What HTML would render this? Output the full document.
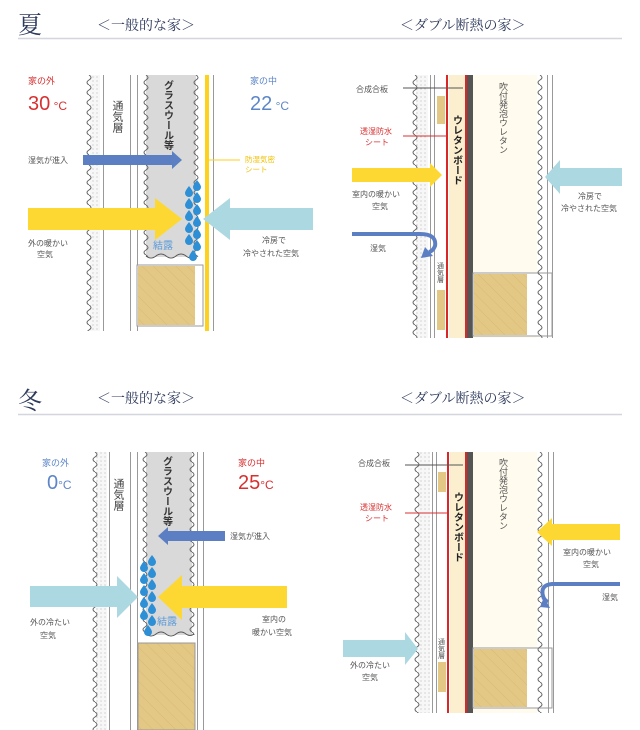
<!DOCTYPE html>
<html><head><meta charset="utf-8"><style>
html,body{margin:0;padding:0;background:#fff;}
svg{display:block;}
text{font-family:"Liberation Sans","Noto Sans CJK JP",sans-serif;}
.s{font-size:8px;fill:#555;}
.ttl{font-family:"Liberation Serif","Noto Serif CJK SC",serif;fill:#2e3a5c;}
.v{writing-mode:tb;}
</style></head><body>
<svg width="640" height="730" viewBox="0 0 640 730" xmlns="http://www.w3.org/2000/svg">
<defs>
<pattern id="wave" width="8" height="10" patternUnits="userSpaceOnUse">
<path d="M4,0 Q8,2.5 4,5 Q0,7.5 4,10" fill="none" stroke="#666" stroke-width="1"/>
</pattern>
<pattern id="dots" width="4" height="4" patternUnits="userSpaceOnUse">
<rect width="4" height="4" fill="#f7f7f7"/><circle cx="1" cy="1" r="0.6" fill="#bbb"/>
</pattern>
<pattern id="hatch" width="8" height="8" patternUnits="userSpaceOnUse" patternTransform="rotate(-45)">
<rect width="8" height="8" fill="#e3c785"/><line x1="0" y1="0" x2="0" y2="8" stroke="#d9ba72" stroke-width="1"/>
</pattern>
<path id="drop" d="M0,-5 Q4,0 4,2 A4,4 0 1 1 -4,2 Q-4,0 0,-5Z" fill="#2d8fd6"/>
<g id="drops">
<use href="#drop" x="0" y="0"/><use href="#drop" x="0" y="12"/><use href="#drop" x="0" y="24"/><use href="#drop" x="0" y="36"/><use href="#drop" x="0" y="48"/><use href="#drop" x="0" y="60"/>
<use href="#drop" x="-8" y="6"/><use href="#drop" x="-8" y="18"/><use href="#drop" x="-8" y="30"/><use href="#drop" x="-8" y="42"/><use href="#drop" x="-8" y="54"/><use href="#drop" x="-4" y="70"/>
</g>
</defs>

<!-- ===== TITLES ===== -->
<text x="18" y="33" class="ttl" font-size="24">夏</text>
<text x="97" y="30" class="ttl" font-size="14">＜一般的な家＞</text>
<text x="400" y="30" class="ttl" font-size="14">＜ダブル断熱の家＞</text>
<line x1="18" y1="38.5" x2="622" y2="38.5" stroke="#d4d6de" stroke-width="1.5"/>

<text x="18" y="409" class="ttl" font-size="24">冬</text>
<text x="97" y="403" class="ttl" font-size="14">＜一般的な家＞</text>
<text x="400" y="403" class="ttl" font-size="14">＜ダブル断熱の家＞</text>
<line x1="18" y1="414.5" x2="622" y2="414.5" stroke="#d4d6de" stroke-width="1.5"/>

<!-- ===== SUMMER GENERAL ===== -->
<g>
<rect x="90" y="75" width="10" height="256" fill="url(#dots)"/>
<g transform="translate(85,75)"><rect width="8" height="256" fill="url(#wave)"/></g>
<line x1="103.5" y1="75" x2="103.5" y2="331" stroke="#999"/>
<text x="117" y="100" class="v" style="font-size:11px" fill="#444">通気層</text>
<line x1="130.5" y1="75" x2="130.5" y2="331" stroke="#999"/>
<line x1="137.5" y1="75" x2="137.5" y2="331" stroke="#999"/>
<rect x="146" y="75" width="50" height="182" fill="#d9d9d9"/>
<g transform="translate(142,75)"><rect width="8" height="182" fill="url(#wave)"/></g>
<g transform="translate(192,75)"><rect width="8" height="182" fill="url(#wave)"/></g>
<path d="M146,256 q5,4 10,0 q5,-4 10,0 q5,4 10,0 q5,-4 10,0 q5,4 10,0" fill="none" stroke="#555"/>
<text x="167" y="80" style="font-size:10px" class="v" fill="#333" font-weight="bold">グラスウール等</text>
<rect x="137" y="265" width="66" height="61" fill="#fff" stroke="#999"/>
<rect x="138" y="266" width="57" height="59" fill="url(#hatch)"/>
<rect x="205" y="75" width="4" height="256" fill="#fcd21f"/>
<line x1="213.5" y1="75" x2="213.5" y2="331" stroke="#999"/>
<use href="#drops" x="197" y="185"/>
<text x="153" y="249" font-size="10" fill="#5a9ad8">結露</text>

<text x="28" y="84" font-size="9" fill="#d83030">家の外</text>
<text x="28" y="110" font-size="20" fill="#d83030">30<tspan font-size="12"> °C</tspan></text>
<text x="250" y="84" font-size="9" fill="#5c86c8">家の中</text>
<text x="250" y="110" font-size="20" fill="#5c86c8">22<tspan font-size="12"> °C</tspan></text>

<polygon points="83,155 172,155 172,151 182,160 172,169 172,165 83,165" fill="#5c7fc4"/>
<text x="28" y="163" class="s">湿気が進入</text>
<polygon points="28,208 155,208 155,198 182,219 155,240 155,230 28,230" fill="#fdd833"/>
<polygon points="313,208 230,208 230,198 203,219 230,240 230,230 313,230" fill="#acd8e2"/>
<line x1="209" y1="160" x2="240" y2="160" stroke="#fcd21f"/>
<text x="245" y="162" font-size="7.5" fill="#f0c000">防湿気密</text>
<text x="245" y="172" font-size="7.5" fill="#f0c000">シート</text>
<text x="28" y="246" class="s">外の暖かい</text>
<text x="37" y="257" class="s">空気</text>
<text x="262" y="243" class="s">冷房で</text>
<text x="243" y="256" class="s">冷やされた空気</text>
</g>

<!-- ===== SUMMER DOUBLE ===== -->
<g>
<rect x="416" y="75" width="12" height="263" fill="url(#dots)"/>
<g transform="translate(411,75)"><rect width="8" height="263" fill="url(#wave)"/></g>
<line x1="430.5" y1="75" x2="430.5" y2="338" stroke="#999"/>
<line x1="434.5" y1="75" x2="434.5" y2="338" stroke="#999"/>
<rect x="437" y="96" width="8" height="28" fill="#e3c785"/>
<rect x="437" y="290" width="8" height="40" fill="#e3c785"/>
<rect x="449" y="75" width="16" height="263" fill="#fbefcf"/>
<rect x="446" y="75" width="2" height="263" fill="#d92626"/>
<rect x="465" y="75" width="2" height="263" fill="#d92626"/>
<rect x="467" y="75" width="6" height="263" fill="#555"/>
<rect x="473" y="75" width="64" height="263" fill="#fffbee"/>
<rect x="473" y="273" width="79" height="63" fill="#fff" stroke="#999"/>
<rect x="474" y="274" width="53" height="61" fill="url(#hatch)"/>
<g transform="translate(536,75)"><rect width="8" height="263" fill="url(#wave)"/></g>
<line x1="547.5" y1="75" x2="547.5" y2="338" stroke="#999"/>
<line x1="552.5" y1="75" x2="552.5" y2="338" stroke="#999"/>
<text x="456" y="115" style="font-size:10px" font-weight="bold" class="v" fill="#222">ウレタンボード</text>
<text x="503" y="82" style="font-size:9px" class="v" fill="#555">吹付発泡ウレタン</text>
<text x="440" y="262" style="font-size:7px" class="v" fill="#555">通気層</text>
<text x="356" y="92" class="s">合成合板</text>
<line x1="403" y1="88" x2="463" y2="88" stroke="#555"/>
<text x="360" y="134" font-size="8" fill="#d83030">透湿防水</text>
<text x="365" y="145" font-size="8" fill="#d83030">シート</text>
<line x1="403" y1="136" x2="447" y2="136" stroke="#d83030"/>
<polygon points="352,168 430,168 430,163 442,175 430,187 430,182 352,182" fill="#fdd833"/>
<text x="352" y="197" class="s">室内の暖かい</text>
<text x="372" y="209" class="s">空気</text>
<path d="M352,234 L420,234 Q437,234 435,246 Q433,251 429,252" fill="none" stroke="#5c7fc4" stroke-width="4"/>
<polygon points="425,247 433,256 421,258" fill="#5c7fc4"/>
<text x="370" y="251" class="s">湿気</text>
<polygon points="622,168 560,168 560,160 545,177 560,194 560,186 622,186" fill="#acd8e2"/>
<text x="578" y="199" class="s">冷房で</text>
<text x="561" y="211" class="s">冷やされた空気</text>
</g>

<!-- ===== WINTER GENERAL ===== -->
<g>
<rect x="96" y="452" width="11" height="278" fill="url(#dots)"/>
<g transform="translate(91,452)"><rect width="8" height="278" fill="url(#wave)"/></g>
<line x1="109.5" y1="452" x2="109.5" y2="730" stroke="#999"/>
<text x="118" y="478" style="font-size:11px" class="v" fill="#444">通気層</text>
<line x1="130.5" y1="452" x2="130.5" y2="730" stroke="#999"/>
<line x1="137.5" y1="452" x2="137.5" y2="730" stroke="#999"/>
<rect x="146" y="452" width="46" height="183" fill="#d9d9d9"/>
<g transform="translate(141,452)"><rect width="8" height="183" fill="url(#wave)"/></g>
<g transform="translate(188,452)"><rect width="8" height="183" fill="url(#wave)"/></g>
<path d="M146,634 q5,4 10,0 q5,-4 10,0 q5,4 10,0 q5,-4 10,0 q4,3 8,0" fill="none" stroke="#555"/>
<text x="166" y="456" style="font-size:10px" class="v" fill="#333" font-weight="bold">グラスウール等</text>
<line x1="197.5" y1="452" x2="197.5" y2="730" stroke="#999"/>
<line x1="203.5" y1="452" x2="203.5" y2="730" stroke="#999"/>
<rect x="138" y="643" width="57" height="87" fill="url(#hatch)" stroke="#999"/>
<use href="#drops" x="152" y="560"/>
<text x="157" y="625" font-size="10" fill="#5a9ad8">結露</text>

<text x="42" y="466" font-size="9" fill="#5c86c8">家の外</text>
<text x="47" y="489" font-size="20" fill="#5c86c8">0<tspan font-size="12">°C</tspan></text>
<text x="238" y="466" font-size="9" fill="#d83030">家の中</text>
<text x="238" y="489" font-size="20" fill="#d83030">25<tspan font-size="12">°C</tspan></text>

<polygon points="225,531 168,531 168,527 158,536 168,545 168,541 225,541" fill="#5c7fc4"/>
<text x="230" y="539" class="s">湿気が進入</text>
<polygon points="30,586 117,586 117,576 138,597 117,618 117,607 30,607" fill="#acd8e2"/>
<polygon points="287,586 182,586 182,575 158,597 182,620 182,608 287,608" fill="#fdd833"/>
<text x="30" y="625" class="s">外の冷たい</text>
<text x="40" y="638" class="s">空気</text>
<text x="262" y="622" class="s">室内の</text>
<text x="252" y="635" class="s">暖かい空気</text>
</g>

<!-- ===== WINTER DOUBLE ===== -->
<g>
<rect x="418" y="452" width="12" height="261" fill="url(#dots)"/>
<g transform="translate(413,452)"><rect width="8" height="261" fill="url(#wave)"/></g>
<line x1="432.5" y1="452" x2="432.5" y2="713" stroke="#999"/>
<line x1="436.5" y1="452" x2="436.5" y2="713" stroke="#999"/>
<rect x="438" y="472" width="8" height="20" fill="#e3c785"/>
<rect x="438" y="662" width="8" height="30" fill="#e3c785"/>
<rect x="450" y="452" width="15" height="261" fill="#fbefcf"/>
<rect x="447" y="452" width="2" height="261" fill="#d92626"/>
<rect x="465" y="452" width="2" height="261" fill="#d92626"/>
<rect x="467" y="452" width="6" height="261" fill="#555"/>
<rect x="473" y="452" width="64" height="261" fill="#fffbee"/>
<rect x="473" y="648" width="79" height="60" fill="#fff" stroke="#999"/>
<rect x="474" y="649" width="53" height="58" fill="url(#hatch)"/>
<g transform="translate(536,452)"><rect width="8" height="261" fill="url(#wave)"/></g>
<line x1="548.5" y1="452" x2="548.5" y2="713" stroke="#999"/>
<line x1="553.5" y1="452" x2="553.5" y2="713" stroke="#999"/>
<text x="457" y="492" style="font-size:10px" font-weight="bold" class="v" fill="#222">ウレタンボード</text>
<text x="503" y="458" style="font-size:9px" class="v" fill="#555">吹付発泡ウレタン</text>
<text x="441" y="638" style="font-size:7px" class="v" fill="#555">通気層</text>
<text x="358" y="466" class="s">合成合板</text>
<line x1="405" y1="465" x2="463" y2="465" stroke="#555"/>
<text x="360" y="510" font-size="8" fill="#d83030">透湿防水</text>
<text x="365" y="521" font-size="8" fill="#d83030">シート</text>
<line x1="405" y1="513" x2="447" y2="513" stroke="#d83030"/>
<polygon points="620,524 552,524 552,518 537,532 552,546 552,540 620,540" fill="#fdd833"/>
<text x="563" y="555" class="s">室内の暖かい</text>
<text x="583" y="567" class="s">空気</text>
<path d="M620,584 L552,584 Q540,585 543,596 Q544,600 548,602" fill="none" stroke="#5c7fc4" stroke-width="4"/>
<polygon points="544,597 550,608 540,607" fill="#5c7fc4"/>
<text x="602" y="600" class="s">湿気</text>
<polygon points="343,640 405,640 405,632 418,649 405,665 405,657 343,657" fill="#acd8e2"/>
<text x="350" y="668" class="s">外の冷たい</text>
<text x="362" y="680" class="s">空気</text>
</g>
</svg>
</body></html>
